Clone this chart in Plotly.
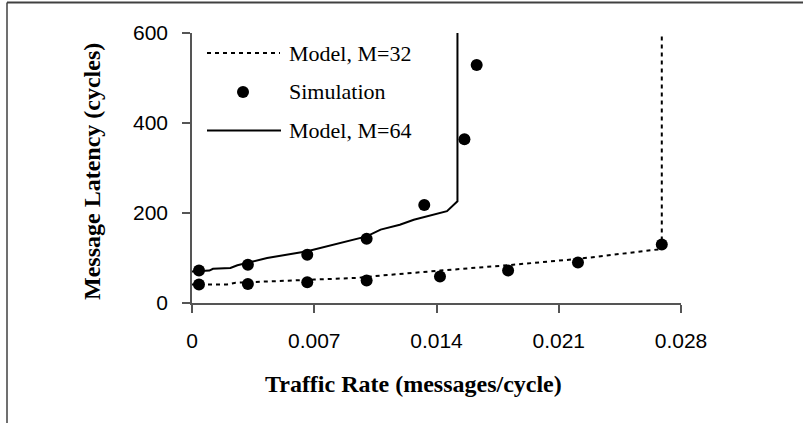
import plotly.graph_objects as go

# ---- data ----
model32_x = [0.0, 0.0020, 0.0025, 0.0040, 0.0070, 0.0095, 0.0108, 0.0142, 0.0181, 0.0221, 0.0264, 0.0269, 0.0269]
model32_y = [41, 41, 45, 47, 52, 56, 61, 72, 84, 98, 117, 120, 620]

model64_x = [0.0, 0.0010, 0.0012, 0.0022, 0.0026, 0.0032, 0.0043, 0.0066, 0.0085, 0.0100, 0.0108, 0.0119, 0.0127, 0.0146, 0.0152, 0.0152]
model64_y = [70, 72, 76, 78, 84, 90, 100, 115, 133, 148, 163, 174, 185, 204, 226, 620]

sim32_x = [0.0004, 0.0032, 0.0066, 0.0100, 0.0142, 0.0181, 0.0221, 0.0269]
sim32_y = [41, 42, 46, 50, 59, 72, 90, 130]
sim64_x = [0.0004, 0.0032, 0.0066, 0.0100, 0.0133, 0.0156, 0.0163]
sim64_y = [72, 85, 107, 143, 218, 364, 529]

x_ticks = [0, 0.007, 0.014, 0.021, 0.028]
x_ticktext = ["0", "0.007", "0.014", "0.021", "0.028"]
y_ticks = [0, 200, 400, 600]

legend_labels = ["Model, M=32", "Simulation", "Model, M=64"]

SERIF = "Liberation Serif, Times New Roman, serif"
SANS = "Liberation Sans, Arial, sans-serif"
DASH = "4px,4px"

fig = go.Figure()
fig.add_trace(go.Scatter(x=model32_x, y=model32_y, mode="lines",
                         line=dict(color="black", width=2, dash=DASH), showlegend=False))
fig.add_trace(go.Scatter(x=model64_x, y=model64_y, mode="lines",
                         line=dict(color="black", width=2), showlegend=False))
fig.add_trace(go.Scatter(x=sim32_x, y=sim32_y, mode="markers",
                         marker=dict(color="black", size=12), showlegend=False, cliponaxis=False))
fig.add_trace(go.Scatter(x=sim64_x, y=sim64_y, mode="markers",
                         marker=dict(color="black", size=12), showlegend=False, cliponaxis=False))

# plot area: x 192..681, y 33..303
W, H = 803, 423
L, R, T, B = 192, 122, 33, 120
pw, ph = W - L - R, H - T - B


def px(x):
    return (x - L) / pw


def py(y):
    return (H - B - y) / ph


shapes = []
# outer frame (top and left)
shapes.append(dict(type="line", xref="paper", yref="paper", x0=px(7), x1=px(900), y0=py(2.5), y1=py(2.5),
                   line=dict(color="#404040", width=2)))
shapes.append(dict(type="line", xref="paper", yref="paper", x0=px(7), x1=px(7), y0=py(2.5), y1=py(500),
                   line=dict(color="#404040", width=1.5)))
# legend samples
shapes.append(dict(type="line", xref="paper", yref="paper", x0=px(207), x1=px(280), y0=py(53), y1=py(53),
                   line=dict(color="black", width=2, dash=DASH)))
shapes.append(dict(type="circle", xref="paper", yref="paper", xsizemode="pixel", ysizemode="pixel",
                   xanchor=px(243), yanchor=py(92), x0=-6, x1=6, y0=-6, y1=6,
                   fillcolor="black", line=dict(color="black", width=0)))
shapes.append(dict(type="line", xref="paper", yref="paper", x0=px(207), x1=px(281), y0=py(130.5), y1=py(130.5),
                   line=dict(color="black", width=2)))

annotations = []
for lbl, yy in zip(legend_labels, [53, 91, 130]):
    annotations.append(dict(xref="paper", yref="paper", x=px(287), y=py(yy), text=lbl, showarrow=False,
                            xanchor="left", yanchor="middle", font=dict(family=SERIF, size=22, color="black")))
annotations.append(dict(xref="paper", yref="paper", x=px(92), y=py(172), text="Message Latency (cycles)",
                        textangle=-90, showarrow=False, xanchor="center", yanchor="middle",
                        font=dict(family=SERIF, size=24, color="black", weight="bold")))
annotations.append(dict(xref="paper", yref="paper", x=px(413), y=py(384), text="Traffic Rate (messages/cycle)",
                        showarrow=False, xanchor="center", yanchor="middle",
                        font=dict(family=SERIF, size=24, color="black", weight="bold")))

fig.update_layout(
    width=W, height=H,
    margin=dict(l=L, r=R, t=T, b=B),
    paper_bgcolor="white", plot_bgcolor="white",
    shapes=shapes, annotations=annotations,
    showlegend=False,
)
fig.update_xaxes(range=[0, 0.028], tickvals=x_ticks, ticktext=x_ticktext, showgrid=False, zeroline=False,
                 showline=True, linecolor="#555555", linewidth=1.5, ticks="outside", ticklen=8,
                 tickcolor="#555555", tickwidth=1.5, ticklabelstandoff=10,
                 tickfont=dict(family=SANS, size=21, color="black"))
fig.update_yaxes(range=[0, 600], tickvals=y_ticks, showgrid=False, zeroline=False,
                 showline=True, linecolor="#555555", linewidth=1.5, ticks="outside", ticklen=8,
                 tickcolor="#555555", tickwidth=1.5, ticklabelstandoff=10,
                 tickfont=dict(family=SANS, size=21, color="black"))

fig.write_html("out.html", config={"displayModeBar": False},
               post_script="document.body.style.margin='0';document.body.style.padding='0';")
